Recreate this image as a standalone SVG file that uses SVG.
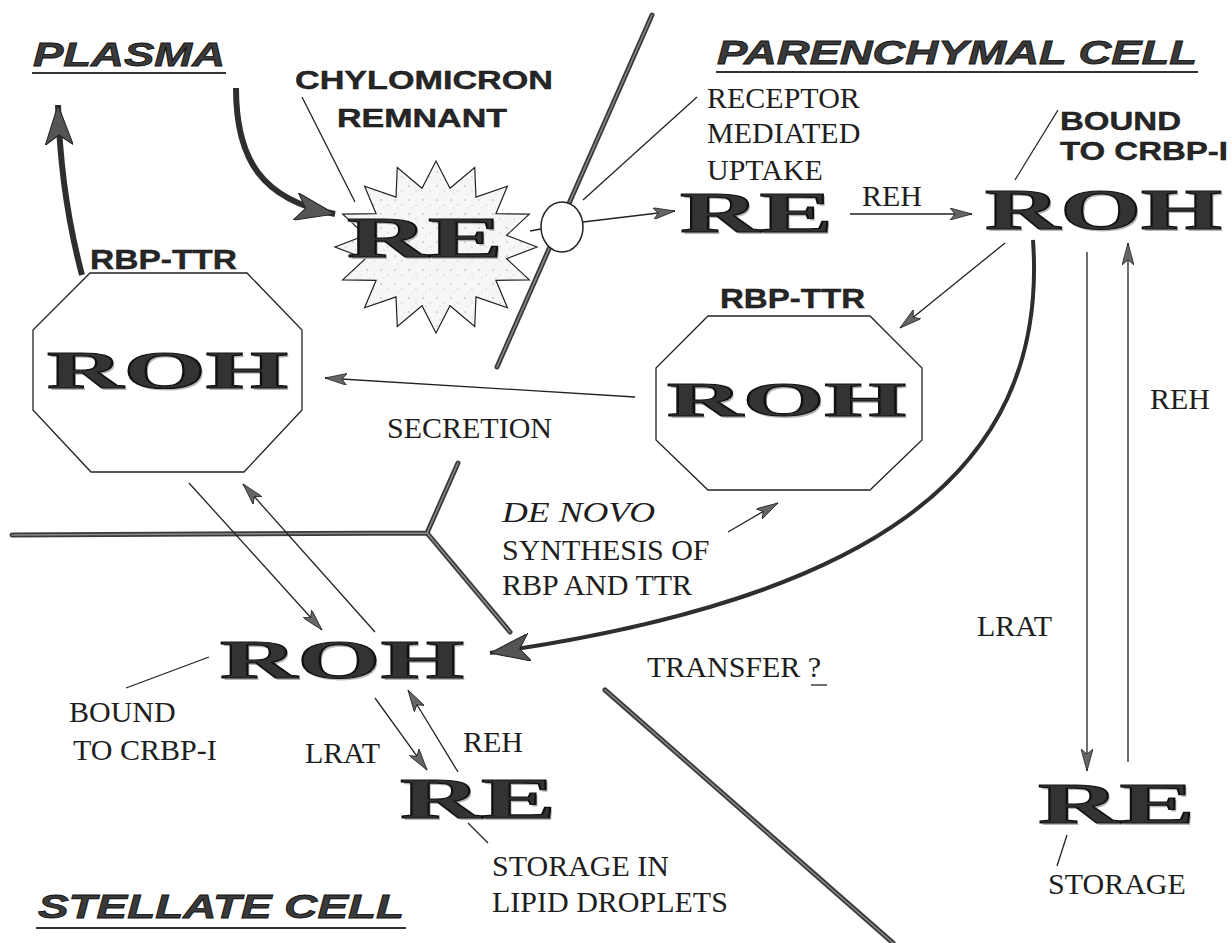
<svg xmlns="http://www.w3.org/2000/svg" width="1232" height="943" viewBox="0 0 1232 943">
<defs>
<style>
.lbl{font-family:"Liberation Serif","Times New Roman",serif;font-size:30px;fill:#1e1e1e}
.it{font-style:italic}
.bs{font-family:"Liberation Sans",Arial,sans-serif;font-weight:bold;fill:#262626;stroke:#111;stroke-width:0.4}
.head{font-family:"Liberation Sans",Arial,sans-serif;font-weight:bold;font-style:italic;font-size:34px;fill:#3a3a3a;stroke:#111;stroke-width:0.8}
.big{font-family:"Liberation Serif","Times New Roman",serif;font-weight:bold;fill:#333;stroke:#111;stroke-width:1.2}
.shd{font-family:"Liberation Serif","Times New Roman",serif;font-weight:bold;fill:#b5b5b5}
.ul{stroke:#333;stroke-width:2}
.thin{stroke:#222;stroke-width:1.3;fill:none}
.arr{stroke:#222;stroke-width:1.3;fill:none;marker-end:url(#ah)}
.thick{stroke:#2e2e2e;fill:none;marker-end:url(#ahb)}
.mem{stroke:#3a3a3a;stroke-width:5;fill:none;stroke-linecap:round}
.mem2{stroke:#8a8a8a;stroke-width:1.5;fill:none;stroke-linecap:round}
.oct{fill:#fff;stroke:#222;stroke-width:1.3}
</style>
<marker id="ah" viewBox="0 0 22 12" refX="22" refY="6" markerWidth="22" markerHeight="12" markerUnits="userSpaceOnUse" orient="auto">
<path d="M0,0 L22,6 L0,12 L5,6 Z" fill="#666" stroke="#222" stroke-width="0.8"/>
</marker>
<marker id="ahb" viewBox="0 0 40 28" refX="40" refY="14" markerWidth="40" markerHeight="28" markerUnits="userSpaceOnUse" orient="auto">
<path d="M0,0 L40,14 L0,28 L10,14 Z" fill="#555" stroke="#222" stroke-width="1"/>
</marker>
<pattern id="speck" width="14" height="14" patternUnits="userSpaceOnUse">
<rect width="14" height="14" fill="#f6f6f6"/>
<circle cx="3" cy="4" r="0.7" fill="#999"/>
<circle cx="10" cy="9" r="0.6" fill="#aaa"/>
<circle cx="6" cy="12" r="0.5" fill="#bbb"/>
</pattern>
</defs>
<rect width="1232" height="943" fill="#fff"/>

<g id="membranes">
<path class="mem" d="M652,15 L497,367"/>
<path class="mem2" d="M652,15 L497,367"/>
<path class="mem" d="M12,535 L427,533 L458,463 M427,533 L510,632"/>
<path class="mem2" d="M12,535 L427,533 L458,463 M427,533 L510,632"/>
<path class="mem" d="M605,690 L893,943"/>
<path class="mem2" d="M605,690 L893,943"/>
</g>

<g id="region-labels">
<text class="head" x="33" y="66" textLength="192" lengthAdjust="spacingAndGlyphs">PLASMA</text>
<line class="ul" x1="32" y1="73" x2="226" y2="73"/>
<text class="head" x="717" y="64" textLength="480" lengthAdjust="spacingAndGlyphs">PARENCHYMAL CELL</text>
<line class="ul" x1="716" y1="72" x2="1198" y2="72"/>
<text class="head" x="38" y="918" textLength="366" lengthAdjust="spacingAndGlyphs">STELLATE CELL</text>
<line class="ul" x1="36" y1="928" x2="406" y2="928"/>
</g>

<g id="chylomicron">
<polygon points="436,161 450,188.2 474.7,167.5 476,197.1 507.4,186.2 495.9,213.7 529.3,214.1 506.6,235.3 537,247 506.6,258.7 529.3,279.9 495.9,280.3 507.4,307.8 476,296.9 474.7,326.5 450,305.8 436,333 422,305.8 397.3,326.5 396,296.9 364.6,307.8 376.1,280.3 342.7,279.9 365.4,258.7 335,247 365.4,235.3 342.7,214.1 376.1,213.7 364.6,186.2 396,197.1 397.3,167.5 422,188.2" fill="url(#speck)" stroke="#222" stroke-width="1.2"/>
<text class="shd" x="349" y="259" font-size="58" textLength="156" lengthAdjust="spacingAndGlyphs">RE</text>
<text class="big" x="347" y="257" font-size="58" textLength="156" lengthAdjust="spacingAndGlyphs">RE</text>
<text class="bs" x="295" y="89" font-size="26" textLength="258" lengthAdjust="spacingAndGlyphs">CHYLOMICRON</text>
<text class="bs" x="337" y="127" font-size="26" textLength="170" lengthAdjust="spacingAndGlyphs">REMNANT</text>
</g>

<g id="receptor">
<ellipse cx="562" cy="227" rx="21" ry="25" fill="#fff" stroke="#222" stroke-width="1.5"/>
<text class="lbl" x="707" y="108">RECEPTOR</text>
<text class="lbl" x="707" y="143">MEDIATED</text>
<text class="lbl" x="707" y="180">UPTAKE</text>
</g>

<g id="re-parenchymal">
<text class="shd" x="682" y="234" font-size="58" textLength="153" lengthAdjust="spacingAndGlyphs">RE</text>
<text class="big" x="680" y="232" font-size="58" textLength="153" lengthAdjust="spacingAndGlyphs">RE</text>
</g>

<g id="roh-parenchymal">
<text class="shd" x="987" y="231" font-size="56" textLength="237" lengthAdjust="spacingAndGlyphs">ROH</text>
<text class="big" x="985" y="229" font-size="56" textLength="237" lengthAdjust="spacingAndGlyphs">ROH</text>
<text class="bs" x="1060" y="130" font-size="26" textLength="121" lengthAdjust="spacingAndGlyphs">BOUND</text>
<text class="bs" x="1060" y="160" font-size="26" textLength="168" lengthAdjust="spacingAndGlyphs">TO CRBP-I</text>
</g>

<g id="rbp-ttr-plasma">
<polygon class="oct" points="90,273 247,273 302,330 302,410 244,472 91,472 33,410 33,330"/>
<text class="bs" x="90" y="269" font-size="28" textLength="147" lengthAdjust="spacingAndGlyphs">RBP-TTR</text>
<text class="shd" x="49" y="390" font-size="52" textLength="241" lengthAdjust="spacingAndGlyphs">ROH</text>
<text class="big" x="47" y="388" font-size="52" textLength="241" lengthAdjust="spacingAndGlyphs">ROH</text>
</g>

<g id="rbp-ttr-cell">
<polygon class="oct" points="708,316 870,316 922,368 922,440 870,490 708,490 656,440 656,368"/>
<text class="bs" x="720" y="308" font-size="28" textLength="145" lengthAdjust="spacingAndGlyphs">RBP-TTR</text>
<text class="shd" x="669" y="418" font-size="48" textLength="239" lengthAdjust="spacingAndGlyphs">ROH</text>
<text class="big" x="667" y="416" font-size="48" textLength="239" lengthAdjust="spacingAndGlyphs">ROH</text>
</g>

<g id="roh-stellate">
<text class="shd" x="222" y="680" font-size="54" textLength="244" lengthAdjust="spacingAndGlyphs">ROH</text>
<text class="big" x="220" y="678" font-size="54" textLength="244" lengthAdjust="spacingAndGlyphs">ROH</text>
<text class="lbl" x="69" y="722">BOUND</text>
<text class="lbl" x="73" y="760">TO CRBP-I</text>
</g>

<g id="re-stellate">
<text class="shd" x="402" y="820" font-size="58" textLength="156" lengthAdjust="spacingAndGlyphs">RE</text>
<text class="big" x="400" y="818" font-size="58" textLength="156" lengthAdjust="spacingAndGlyphs">RE</text>
<text class="lbl" x="492" y="876">STORAGE IN</text>
<text class="lbl" x="492" y="912">LIPID DROPLETS</text>
</g>

<g id="re-storage">
<text class="shd" x="1040" y="825" font-size="58" textLength="157" lengthAdjust="spacingAndGlyphs">RE</text>
<text class="big" x="1038" y="823" font-size="58" textLength="157" lengthAdjust="spacingAndGlyphs">RE</text>
<text class="lbl" x="1048" y="894">STORAGE</text>
</g>

<g id="labels">
<text class="lbl" x="862" y="206">REH</text>
<text class="lbl" x="387" y="438">SECRETION</text>
<text class="lbl it" x="502" y="522" textLength="153" lengthAdjust="spacingAndGlyphs">DE NOVO</text>
<text class="lbl" x="502" y="560">SYNTHESIS OF</text>
<text class="lbl" x="502" y="595">RBP AND TTR</text>
<text class="lbl" x="647" y="677">TRANSFER ?</text>
<line class="thin" x1="811" y1="685" x2="827" y2="685"/>
<text class="lbl" x="977" y="636">LRAT</text>
<text class="lbl" x="1150" y="409">REH</text>
<text class="lbl" x="305" y="763">LRAT</text>
<text class="lbl" x="463" y="752">REH</text>
</g>

<g id="connectors">
<path class="thick" stroke-width="6" d="M236,88 C236,160 262,200 335,214"/>
<path class="thick" stroke-width="6" d="M82,275 C70,230 60,170 58,105"/>
<path class="thick" stroke-width="4" d="M1033,240 C1050,480 860,600 490,653"/>
<line class="arr" x1="583" y1="222" x2="675" y2="211"/>
<line class="arr" x1="850" y1="214" x2="972" y2="214"/>
<line class="arr" x1="1005" y1="243" x2="900" y2="328"/>
<line class="arr" x1="635" y1="397" x2="325" y2="378"/>
<line class="arr" x1="728" y1="532" x2="778" y2="503"/>
<line class="arr" x1="189" y1="483" x2="322" y2="630"/>
<line class="arr" x1="375" y1="632" x2="243" y2="484"/>
<line class="arr" x1="375" y1="698" x2="427" y2="770"/>
<line class="arr" x1="458" y1="772" x2="408" y2="690"/>
<line class="arr" x1="1087" y1="252" x2="1087" y2="771"/>
<line class="arr" x1="1128" y1="762" x2="1128" y2="243"/>
<line class="thin" x1="302" y1="97" x2="355" y2="202"/>
<line class="thin" x1="583" y1="200" x2="697" y2="97"/>
<line class="thin" x1="530" y1="231" x2="541" y2="229"/>
<line class="thin" x1="1058" y1="110" x2="1015" y2="180"/>
<line class="thin" x1="209" y1="657" x2="126" y2="688"/>
<line class="thin" x1="468" y1="823" x2="488" y2="843"/>
<line class="thin" x1="1067" y1="835" x2="1057" y2="866"/>
</g>
</svg>
